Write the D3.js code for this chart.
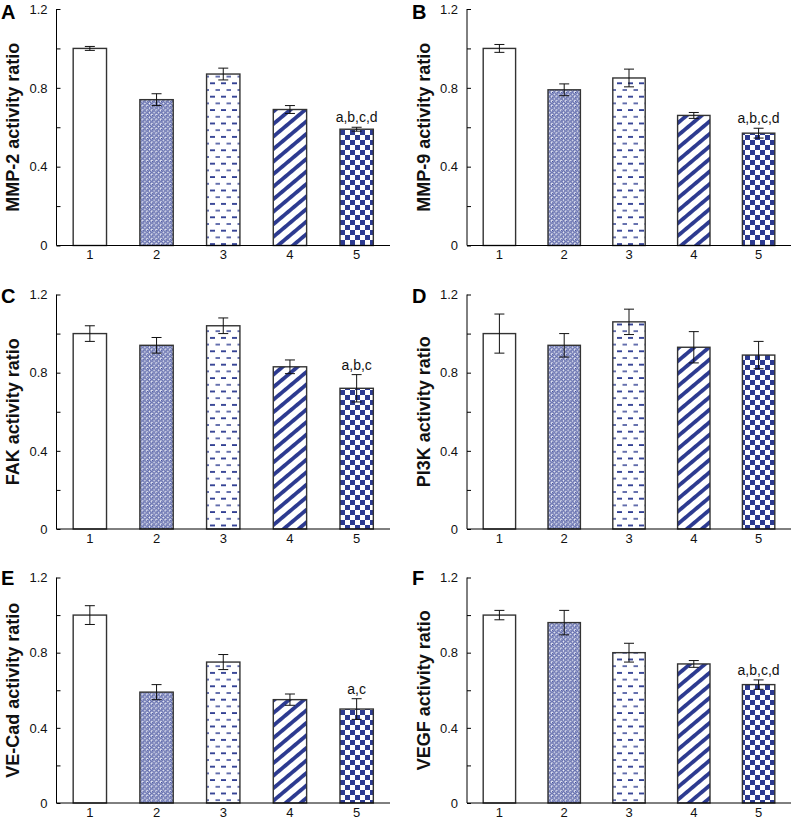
<!DOCTYPE html>
<html><head><meta charset="utf-8">
<script src="https://cdn.jsdelivr.net/npm/d3@7"></script>
<style>html,body{margin:0;padding:0;background:#fff;}svg{display:block;}</style>
</head><body>
<svg id="chart" width="793" height="821"></svg>
<script>
const groups = ["1", "2", "3", "4", "5"];
const panelLetters = ["A", "B", "C", "D", "E", "F"];
const yTitles = ["MMP-2 activity ratio", "MMP-9 activity ratio", "FAK activity ratio", "PI3K activity ratio", "VE-Cad activity ratio", "VEGF activity ratio"];
const mmp2Means = [1.00, 0.74, 0.87, 0.69, 0.59];
const mmp2Errors = [0.01, 0.03, 0.03, 0.02, 0.01];
const mmp9Means = [1.00, 0.79, 0.85, 0.66, 0.57];
const mmp9Errors = [0.02, 0.03, 0.045, 0.015, 0.025];
const fakMeans = [1.00, 0.94, 1.04, 0.83, 0.72];
const fakErrors = [0.04, 0.04, 0.04, 0.035, 0.07];
const pi3kMeans = [1.00, 0.94, 1.06, 0.93, 0.89];
const pi3kErrors = [0.10, 0.06, 0.065, 0.08, 0.07];
const vecadMeans = [1.00, 0.59, 0.75, 0.55, 0.50];
const vecadErrors = [0.05, 0.04, 0.04, 0.03, 0.055];
const vegfMeans = [1.00, 0.96, 0.80, 0.74, 0.63];
const vegfErrors = [0.025, 0.065, 0.05, 0.018, 0.025];
const significance = ["a,b,c,d", "a,b,c,d", "a,b,c", "", "a,c", "a,b,c,d"];
const yTickValues = [0, 0.2, 0.4, 0.6, 0.8, 1.0, 1.2];
const yTickLabels = {"0": "0", "0.4": "0.4", "0.8": "0.8", "1.2": "1.2"};

const allMeans = [mmp2Means, mmp9Means, fakMeans, pi3kMeans, vecadMeans, vegfMeans];
const allErrors = [mmp2Errors, mmp9Errors, fakErrors, pi3kErrors, vecadErrors, vegfErrors];

const svg = d3.select("#chart");
const NAVY = "#2c3a90";
const defs = svg.append("defs");

// pattern 2: dense ring/weave
const p2 = defs.append("pattern").attr("id", "pat2").attr("patternUnits", "userSpaceOnUse").attr("width", 4.6).attr("height", 4.6);
p2.append("rect").attr("width", 4.6).attr("height", 4.6).attr("fill", "#eef0f8");
p2.append("circle").attr("cx", 2.3).attr("cy", 2.3).attr("r", 1.6).attr("fill", "none").attr("stroke", NAVY).attr("stroke-width", 1.0);
p2.append("rect").attr("x", 0).attr("y", 0).attr("width", 0.9).attr("height", 0.9).attr("fill", NAVY);
// pattern 3: staggered dashes
const p3 = defs.append("pattern").attr("id", "pat3").attr("patternUnits", "userSpaceOnUse").attr("width", 11).attr("height", 13.4);
p3.append("rect").attr("width", 11).attr("height", 13.4).attr("fill", "#fff");
p3.append("rect").attr("x", 1).attr("y", 2).attr("width", 5).attr("height", 1.8).attr("fill", NAVY);
p3.append("rect").attr("x", 6.5).attr("y", 8.7).attr("width", 5).attr("height", 1.8).attr("fill", "#5a66a8");
// pattern 4: diagonal stripes
const p4 = defs.append("pattern").attr("id", "pat4").attr("patternUnits", "userSpaceOnUse").attr("width", 10).attr("height", 9.6).attr("patternTransform", "rotate(-40)");
p4.append("rect").attr("width", 10).attr("height", 9.6).attr("fill", "#fff");
p4.append("rect").attr("x", 0).attr("y", 0).attr("width", 10).attr("height", 3.8).attr("fill", NAVY);
// pattern 5: checkerboard
const cs = 5;
const p5 = defs.append("pattern").attr("id", "pat5").attr("patternUnits", "userSpaceOnUse").attr("width", cs * 2).attr("height", cs * 2);
p5.append("rect").attr("width", cs * 2).attr("height", cs * 2).attr("fill", "#fff");
p5.append("rect").attr("x", 0).attr("y", 0).attr("width", cs).attr("height", cs).attr("fill", NAVY);
p5.append("rect").attr("x", cs).attr("y", cs).attr("width", cs).attr("height", cs).attr("fill", NAVY);

const fills = ["#fff", "url(#pat2)", "url(#pat3)", "url(#pat4)", "url(#pat5)"];

const cols = [{left: 56.5, right: 390, titleX: 19, letterX: 1}, {left: 467, right: 791, titleX: 430, letterX: 412}];
const rows = [{top: 9, bottom: 245.5, letterY: 19}, {top: 294.5, bottom: 529, letterY: 303}, {top: 577.5, bottom: 803, letterY: 585}];

allMeans.forEach((means, i) => {
  const c = cols[i % 2], r = rows[Math.floor(i / 2)];
  const errs = allErrors[i];
  const g = svg.append("g");
  const x = d3.scaleBand().domain(groups).range([c.left, c.right]).paddingInner(0.5).paddingOuter(0.25);
  const y = d3.scaleLinear().domain([0, 1.2]).range([r.bottom, r.top]);

  // bars
  g.selectAll("rect.bar").data(means).join("rect")
    .attr("x", (d, j) => x(groups[j]))
    .attr("y", d => y(d))
    .attr("width", x.bandwidth())
    .attr("height", d => y(0) - y(d))
    .attr("fill", (d, j) => fills[j])
    .attr("stroke", "#333")
    .attr("stroke-width", 1.4);

  // error bars
  means.forEach((m, j) => {
    const cx = x(groups[j]) + x.bandwidth() / 2;
    const e = errs[j];
    g.append("line").attr("x1", cx).attr("x2", cx).attr("y1", y(m - e)).attr("y2", y(m + e)).attr("stroke", "#111").attr("stroke-width", 1);
    [m - e, m + e].forEach(v => {
      g.append("line").attr("x1", cx - 5).attr("x2", cx + 5).attr("y1", y(v)).attr("y2", y(v)).attr("stroke", "#111").attr("stroke-width", 1);
    });
  });

  // significance label
  if (significance[i]) {
    const cx = x(groups[4]) + x.bandwidth() / 2;
    g.append("text").attr("x", cx).attr("y", y(means[4] + errs[4]) - 5)
      .attr("text-anchor", "middle").attr("font-family", "Liberation Sans, Arial, sans-serif")
      .attr("font-size", 14).attr("fill", "#111").text(significance[i]);
  }

  // y axis
  const yAxis = d3.axisLeft(y).tickValues(yTickValues).tickSize(-4).tickPadding(9)
    .tickFormat(v => { const k = String(+v.toFixed(1)); return yTickLabels[k] !== undefined ? yTickLabels[k] : ""; });
  const ya = g.append("g").attr("transform", `translate(${c.left},0)`).call(yAxis);
  ya.select(".domain").attr("d", `M0,${r.top}V${r.bottom}`).attr("stroke", "#000");
  ya.selectAll(".tick line").attr("stroke", "#000");
  ya.selectAll(".tick text").attr("font-family", "Liberation Sans, Arial, sans-serif").attr("font-size", 13).attr("fill", "#111");

  // x axis
  const xAxis = d3.axisBottom(x).tickSize(0).tickPadding(4.5);
  const xa = g.append("g").attr("transform", `translate(0,${r.bottom})`).call(xAxis);
  xa.select(".domain").attr("d", `M${c.left},0H${c.right}`).attr("stroke", "#000");
  xa.selectAll(".tick text").attr("font-family", "Liberation Sans, Arial, sans-serif").attr("font-size", 13).attr("fill", "#111");

  // y title
  g.append("text").attr("transform", `translate(${c.titleX},${(r.top + r.bottom) / 2}) rotate(-90)`)
    .attr("text-anchor", "middle").attr("font-family", "Liberation Sans, Arial, sans-serif")
    .attr("font-weight", "bold").attr("font-size", 18).attr("fill", "#111").text(yTitles[i]);

  // panel letter
  g.append("text").attr("x", c.letterX).attr("y", r.letterY)
    .attr("font-family", "Liberation Sans, Arial, sans-serif").attr("font-weight", "bold")
    .attr("font-size", 20).attr("fill", "#000").text(panelLetters[i]);
});
</script>
</body></html>
